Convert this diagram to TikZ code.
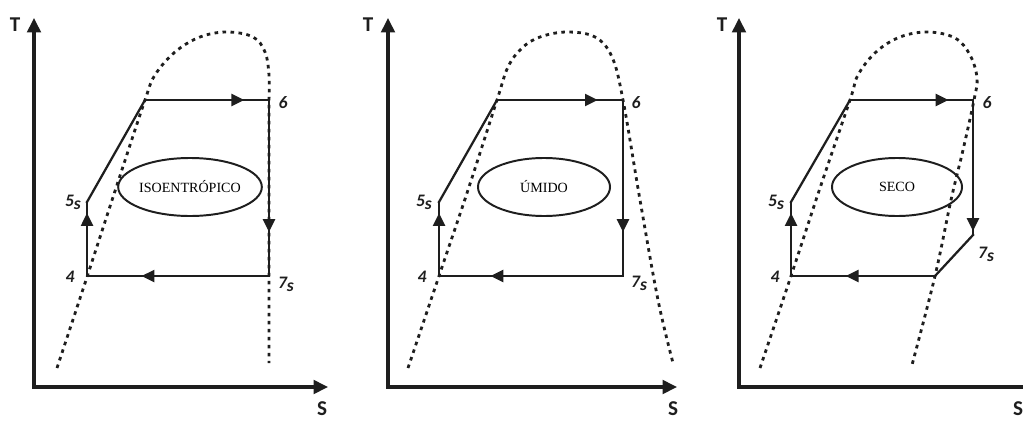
\documentclass[tikz,border=0pt]{standalone}
\usepackage{fontspec}
\setmainfont{Liberation Serif}
\newfontfamily\lblfont{Carlito}
\usetikzlibrary{arrows.meta,decorations.markings,shapes.geometric}

\begin{document}
\begin{tikzpicture}[x=0.025cm, y=-0.025cm,
  axis/.style={line width=2.2pt, draw=lineColor, {Triangle[length=3.6mm,width=3.4mm]}-{Triangle[length=3.6mm,width=3.4mm]}},
  cyc/.style={line width=1.6pt, draw=lineColor, line cap=rect},
  dome/.style={line width=2pt, draw=lineColor, dash pattern=on 0.9mm off 1.1mm},
  flowarrow/.style={postaction={decorate, decoration={markings, mark=at position #1 with {\arrow{Triangle[length=3.2mm,width=3mm]}}}}},
  state/.style={font=\lblfont\bfseries\itshape\fontsize{12.5}{14}\selectfont, text=lineColor, inner sep=0pt},
  axlabel/.style={font=\lblfont\bfseries\fontsize{15}{16}\selectfont, text=lineColor, inner sep=0pt},
  process/.style={draw=lineColor, ellipse, line width=1.4pt, minimum height=1.45cm, inner sep=0pt, font=\fontsize{10}{11}\selectfont}]

\definecolor{lineColor}{HTML}{1E1E1E}
\useasboundingbox (0,0) rectangle (1023,420);

% First diagram (isentropic fluid)
% Axes
\coordinate (tTop1) at (34,18);
\coordinate (sEnd1) at (328,387);
\draw[axis] (tTop1) |- (sEnd1);
\node[axlabel] (tLbl1) at (15,25) {T};
\node[axlabel] (sLbl1) at (322,409) {S};

% Saturation dome
\draw[dome] plot[smooth, tension=0.6] coordinates {(57,368) (87,277) (116,188) (145,100) (155,75) (175,52) (200,37) (227,32) (253,37) (265,52) (269,75) (269,100)} -- (269,363);

% Cycle
\coordinate (four1) at (87,276);
\coordinate (five1) at (87,202);
\coordinate (top1) at (145,100);
\coordinate (six1) at (269,100);
\coordinate (seven1) at (269,276);
\draw[cyc, flowarrow=0.85] (four1) -- (five1);
\draw[cyc] (five1) -- (top1);
\draw[cyc, flowarrow=0.8] (top1) -- (six1);
\draw[cyc, flowarrow=0.75] (six1) -- (seven1);
\draw[cyc, flowarrow=0.7] (seven1) -- (four1);

% State labels
\node[state] (lblSix1) at (283,103) {6};
\node[state] (lblSeven1) at (286,284) {7\raisebox{-0.35ex}{s}};
\node[state] (lblFive1) at (73,202) {5\raisebox{-0.35ex}{s}};
\node[state] (lblFour1) at (70,277) {4};

% Fluid type
\node[process, minimum width=3.15cm] (ell1) at (190,187) {ISOENTRÓPICO};

% Second diagram (wet fluid)
% Axes
\coordinate (tTop2) at (388,18);
\coordinate (sEnd2) at (677,387);
\draw[axis] (tTop2) |- (sEnd2);
\node[axlabel] (tLbl2) at (368,25) {T};
\node[axlabel] (sLbl2) at (673,409) {S};

% Saturation dome
\draw[dome] plot[smooth, tension=0.6] coordinates {(408,368) (439,276) (468,190) (497,100) (508,67) (522,48) (540,37) (567,32) (595,37) (612,57) (623,100) (640,200) (658,300) (673,363)};

% Cycle
\coordinate (four2) at (439,276);
\coordinate (five2) at (439,202);
\coordinate (top2) at (497,100);
\coordinate (six2) at (623,100);
\coordinate (seven2) at (623,276);
\draw[cyc, flowarrow=0.85] (four2) -- (five2);
\draw[cyc] (five2) -- (top2);
\draw[cyc, flowarrow=0.8] (top2) -- (six2);
\draw[cyc, flowarrow=0.75] (six2) -- (seven2);
\draw[cyc, flowarrow=0.72] (seven2) -- (four2);

% State labels
\node[state] (lblSix2) at (636,103) {6};
\node[state] (lblSeven2) at (639,283) {7\raisebox{-0.35ex}{s}};
\node[state] (lblFive2) at (424,202) {5\raisebox{-0.35ex}{s}};
\node[state] (lblFour2) at (422,277) {4};

% Fluid type
\node[process, minimum width=3.3cm] (ell2) at (544,187) {ÚMIDO};

% Third diagram (dry fluid)
% Axes
\coordinate (tTop3) at (739,18);
\coordinate (sEnd3) at (1040,387);
\draw[axis] (tTop3) |- (sEnd3);
\node[axlabel] (tLbl3) at (722,25) {T};
\node[axlabel] (sLbl3) at (1018,409) {S};

% Saturation dome
\draw[dome] plot[smooth, tension=0.6] coordinates {(760,368) (791,276) (820,188) (850,100) (858,75) (876,52) (900,37) (928,32) (955,38) (970,55) (977,78) (974,100) (963,150) (951,200) (935,276) (912,365)};

% Cycle
\coordinate (four3) at (791,276);
\coordinate (five3) at (791,202);
\coordinate (top3) at (850,100);
\coordinate (six3) at (973,100);
\coordinate (seven3) at (973,235);
\coordinate (bend3) at (935,276);
\draw[cyc, flowarrow=0.85] (four3) -- (five3);
\draw[cyc] (five3) -- (top3);
\draw[cyc, flowarrow=0.8] (top3) -- (six3);
\draw[cyc, flowarrow=0.97] (six3) -- (seven3);
\draw[cyc] (seven3) -- (bend3);
\draw[cyc, flowarrow=0.62] (bend3) -- (four3);

% State labels
\node[state] (lblSix3) at (987,103) {6};
\node[state] (lblSeven3) at (986,254) {7\raisebox{-0.35ex}{s}};
\node[state] (lblFive3) at (776,202) {5\raisebox{-0.35ex}{s}};
\node[state] (lblFour3) at (775,277) {4};

% Fluid type
\node[process, minimum width=3.25cm] (ell3) at (897,187) {SECO};

\end{tikzpicture}
\end{document}
